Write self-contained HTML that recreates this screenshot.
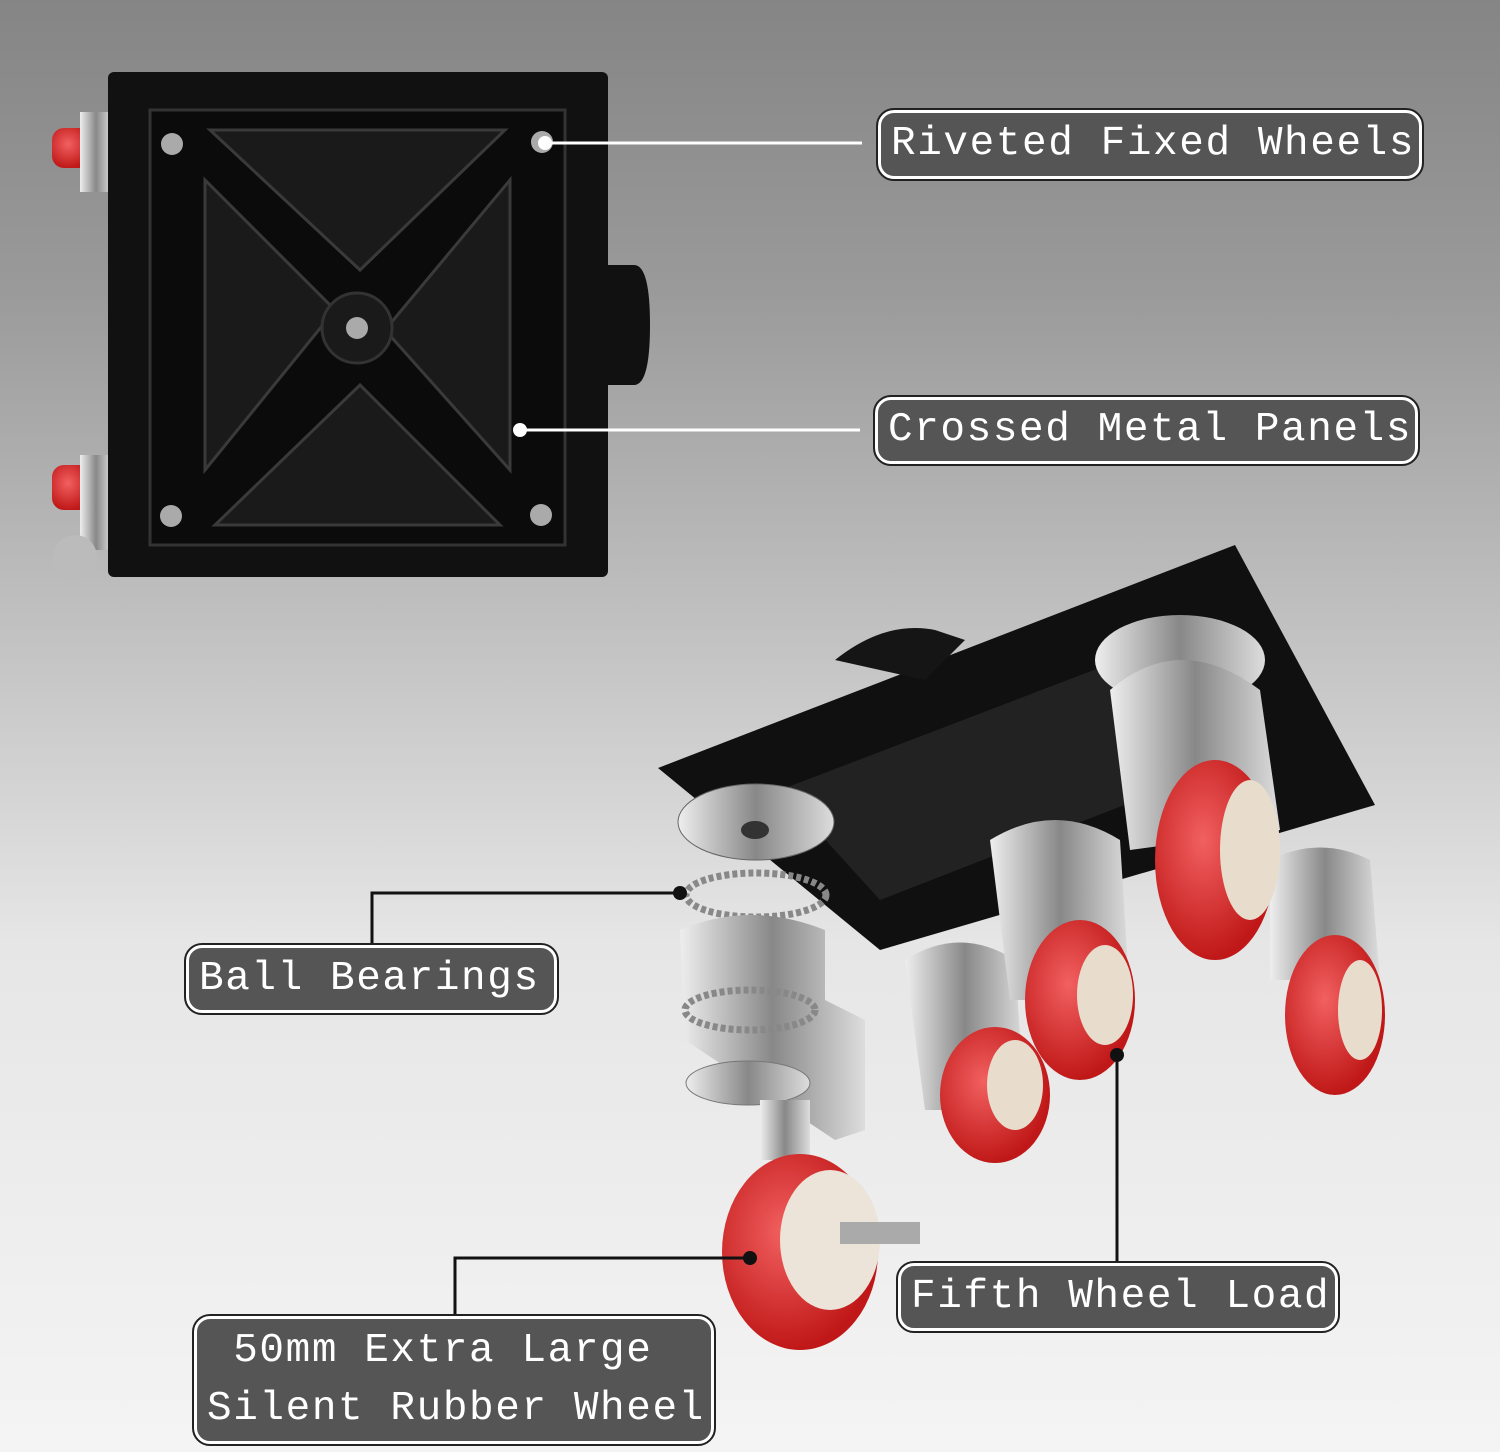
<!DOCTYPE html>
<html><head><meta charset="utf-8"><style>
html,body{margin:0;padding:0}
body{width:1500px;height:1452px;position:relative;overflow:hidden;
background:linear-gradient(180deg,#858585 0%,#9a9a9a 20%,#c4c4c4 45%,#e6e6e6 65%,#f4f4f4 100%);
font-family:"Liberation Mono","DejaVu Sans Mono",monospace;}
.lab{position:absolute;background:#555;border:3px solid #fff;outline:2px solid #222;border-radius:16px;color:#fff;font-size:41px;line-height:60px;white-space:pre;box-sizing:border-box;padding:0 10px;letter-spacing:1.6px;overflow:hidden}
svg{position:absolute;left:0;top:0}
</style></head><body>
<svg width="1500" height="1452" viewBox="0 0 1500 1452">
<defs>
<radialGradient id="red" cx="40%" cy="40%" r="60%"><stop offset="0" stop-color="#f26060"/><stop offset="1" stop-color="#c01818"/></radialGradient>
<linearGradient id="chrome" x1="0" x2="1"><stop offset="0" stop-color="#eee"/><stop offset=".5" stop-color="#888"/><stop offset="1" stop-color="#ddd"/></linearGradient>
</defs>
<rect x="52" y="128" width="40" height="40" rx="12" fill="url(#red)"/>
<rect x="80" y="112" width="32" height="80" fill="url(#chrome)"/>
<rect x="52" y="465" width="40" height="45" rx="12" fill="url(#red)"/>
<rect x="80" y="455" width="32" height="95" fill="url(#chrome)"/>
<circle cx="75" cy="557" r="22" fill="#bbb"/>
<rect x="108" y="72" width="500" height="505" rx="6" fill="#111"/>
<path d="M604 265 h30 q16 0 16 60 q0 60 -16 60 h-30z" fill="#111"/>
<path d="M150 110 L565 110 L565 545 L150 545 Z" fill="#0b0b0b" stroke="#333" stroke-width="3"/>
<path d="M210 130 L505 130 L360 270 Z M205 180 L335 310 L205 470 Z M510 180 L510 470 L385 330 Z M215 525 L500 525 L360 385 Z" fill="#1a1a1a" stroke="#3a3a3a" stroke-width="3"/>
<circle cx="357" cy="328" r="35" fill="#1a1a1a" stroke="#333" stroke-width="3"/>
<g fill="#aaa"><circle cx="357" cy="328" r="11"/><circle cx="172" cy="144" r="11"/><circle cx="542" cy="142" r="11"/><circle cx="171" cy="516" r="11"/><circle cx="541" cy="515" r="11"/></g>
<path d="M658 768 L1235 545 L1375 805 L880 950 Z" fill="#101010"/>
<path d="M835 660 q50 -40 100 -30 l30 10 l-40 40 z" fill="#151515"/>
<path d="M780 790 L1120 660 L1240 760 L880 900 Z" fill="#222"/>
<ellipse cx="756" cy="822" rx="78" ry="38" fill="url(#chrome)" stroke="#666"/>
<ellipse cx="755" cy="830" rx="14" ry="9" fill="#333"/>
<ellipse cx="756" cy="895" rx="70" ry="22" fill="none" stroke="#888" stroke-width="7" stroke-dasharray="5 3"/>
<path d="M680 930 q70 -30 145 0 l0 70 l40 20 l0 110 l-30 10 l-90 -60 l-60 -40 z" fill="url(#chrome)"/>
<ellipse cx="750" cy="1010" rx="65" ry="20" fill="none" stroke="#888" stroke-width="7" stroke-dasharray="5 3"/>
<ellipse cx="748" cy="1083" rx="62" ry="22" fill="url(#chrome)" stroke="#777"/>
<rect x="760" y="1100" width="50" height="60" fill="url(#chrome)"/>
<ellipse cx="800" cy="1252" rx="78" ry="98" fill="url(#red)"/>
<ellipse cx="830" cy="1240" rx="50" ry="70" fill="#ece4d8"/>
<rect x="840" y="1222" width="80" height="22" fill="#aaa"/>
<g>
<path d="M905 960 q55 -35 110 0 l10 150 l-100 0 z" fill="url(#chrome)"/>
<ellipse cx="995" cy="1095" rx="55" ry="68" fill="url(#red)"/><ellipse cx="1015" cy="1085" rx="28" ry="45" fill="#e8dccc"/>
<path d="M990 840 q65 -40 130 0 l10 160 l-120 0 z" fill="url(#chrome)"/>
<ellipse cx="1080" cy="1000" rx="55" ry="80" fill="url(#red)"/><ellipse cx="1105" cy="995" rx="28" ry="50" fill="#e8dccc"/>
<path d="M1270 860 q50 -25 100 0 l10 120 l-110 0 z" fill="url(#chrome)"/>
<ellipse cx="1335" cy="1015" rx="50" ry="80" fill="url(#red)"/><ellipse cx="1360" cy="1010" rx="22" ry="50" fill="#e8dccc"/>
<ellipse cx="1180" cy="660" rx="85" ry="45" fill="url(#chrome)"/>
<path d="M1110 690 q70 -60 150 0 l20 140 l-150 20 z" fill="url(#chrome)"/>
<ellipse cx="1215" cy="860" rx="60" ry="100" fill="url(#red)"/><ellipse cx="1250" cy="850" rx="30" ry="70" fill="#e8dccc"/>
</g>
<g stroke="#fff" stroke-width="3"><line x1="545" y1="143" x2="862" y2="143"/><line x1="520" y1="430" x2="860" y2="430"/></g>
<circle cx="545" cy="143" r="7" fill="#fff"/><circle cx="520" cy="430" r="7" fill="#fff"/>
<g stroke="#111" stroke-width="3" fill="none">
<polyline points="372,945 372,893 680,893"/>
<polyline points="455,1316 455,1258 750,1258"/>
<line x1="1117" y1="1263" x2="1117" y2="1055"/>
</g>
<g fill="#111"><circle cx="680" cy="893" r="7"/><circle cx="750" cy="1258" r="7"/><circle cx="1117" cy="1055" r="7"/></g>
</svg>
<div class="lab" style="left:878px;top:110px;width:544px;height:69px;line-height:63px">Riveted Fixed Wheels</div>
<div class="lab" style="left:875px;top:397px;width:543px;height:67px;line-height:61px">Crossed Metal Panels</div>
<div class="lab" style="left:186px;top:945px;width:371px;height:68px;line-height:62px">Ball Bearings</div>
<div class="lab" style="left:898px;top:1263px;width:440px;height:68px;line-height:62px">Fifth Wheel Load</div>
<div class="lab" style="left:194px;top:1316px;width:520px;height:128px;line-height:58px;padding-top:3px"> 50mm Extra Large
Silent Rubber Wheel</div>
</body></html>
